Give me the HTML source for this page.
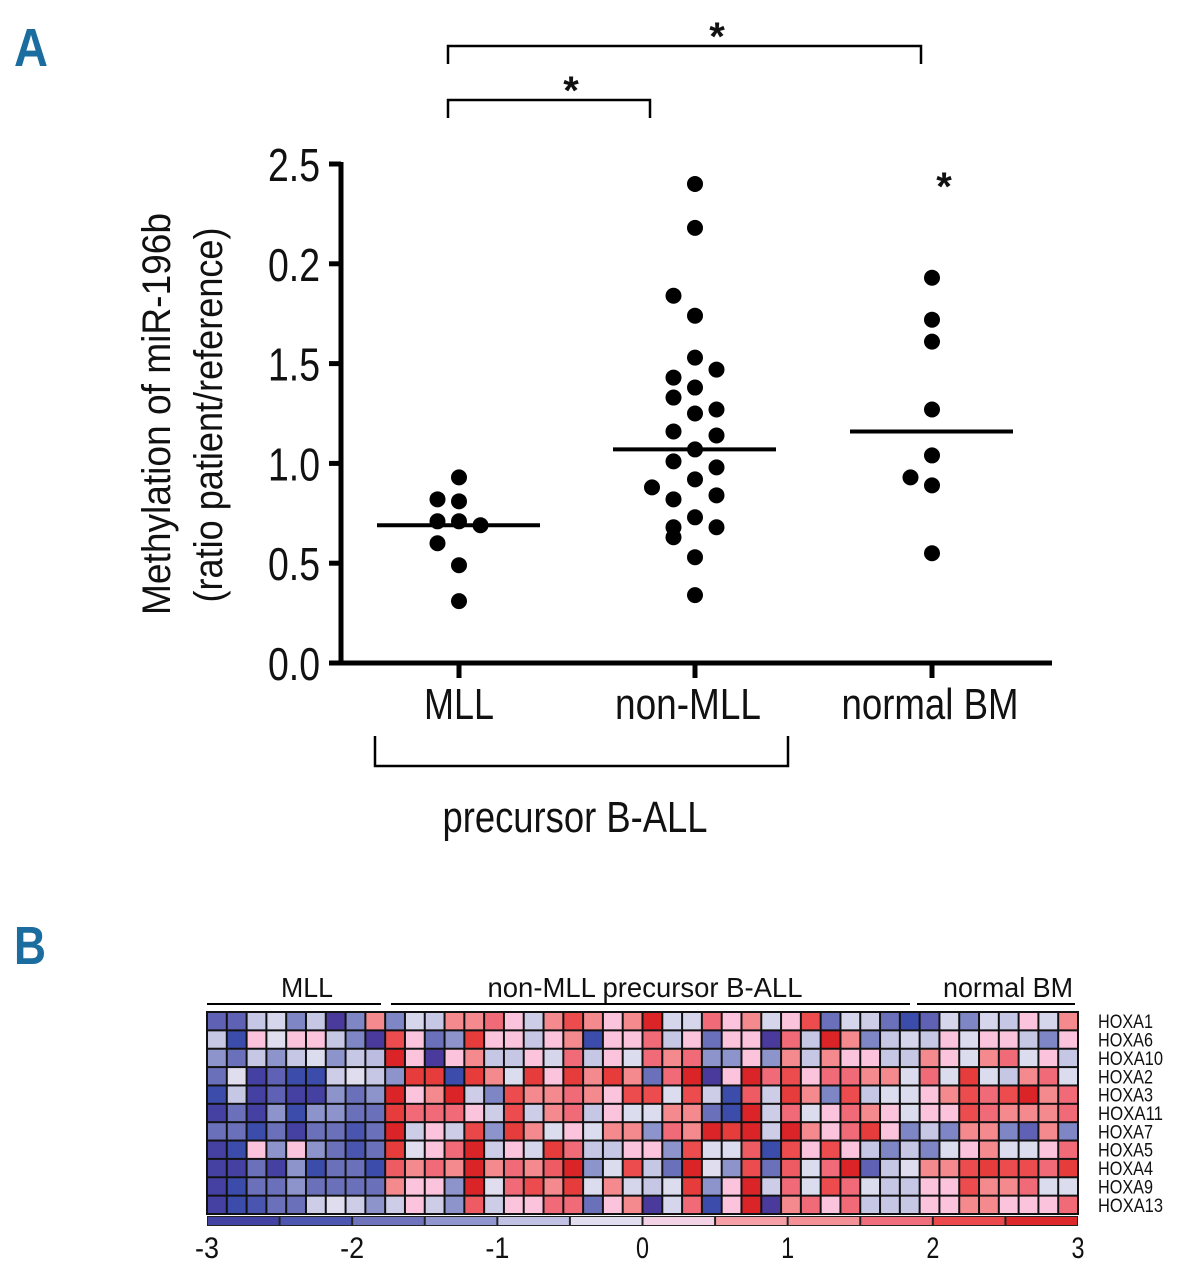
<!DOCTYPE html>
<html><head><meta charset="utf-8"><style>
html,body{margin:0;padding:0;background:#fff;}
svg{display:block;}
text{font-family:"Liberation Sans Narrow","Liberation Sans",sans-serif;fill:#111;}
</style></head><body>
<svg id="fig" width="1185" height="1280" viewBox="0 0 1185 1280" xmlns="http://www.w3.org/2000/svg">
<text x="14" y="66" font-size="54" font-weight="bold" textLength="34" lengthAdjust="spacingAndGlyphs" style="fill:#1a6d9e">A</text>
<text x="14" y="964" font-size="54" font-weight="bold" textLength="32" lengthAdjust="spacingAndGlyphs" style="fill:#1a6d9e">B</text>
<g id="scatter"></g>
<g id="heat"></g>
</svg>
<script>
// ---------- Panel A data ----------
const categories = ["MLL", "non-MLL", "normal BM"];
const yTickValues = [0, 0.5, 1.0, 1.5, 2.0, 2.5];
const yTickLabels = ["0.0", "0.5", "1.0", "1.5", "0.2", "2.5"];
const mllValues = [0.93, 0.82, 0.81, 0.71, 0.71, 0.69, 0.60, 0.49, 0.31];
const mllJitter = [0, -1, 0, -1, 0, 1, -1, 0, 0];
const nonMllValues = [2.40, 2.18, 1.84, 1.74, 1.53, 1.43, 1.47, 1.38, 1.33, 1.16, 1.27, 1.25, 1.14, 1.07, 1.01, 0.88, 0.98, 0.92, 0.82, 0.84, 0.73, 0.68, 0.68, 0.63, 0.53, 0.34];
const nonMllJitter = [0, 0, -1, 0, 0, -1, 1, 0, -1, -1, 1, 0, 1, 0, -1, -2, 1, 0, -1, 1, 0, -1, 1, -1, 0, 0];
const normalValues = [1.93, 1.72, 1.61, 1.27, 1.04, 0.93, 0.89, 0.55];
const normalJitter = [0, 0, 0, 0, 0, -1, 0, 0];
const medians = [0.69, 1.07, 1.16];

// ---------- Panel B data ----------
const genes = ["HOXA1","HOXA6","HOXA10","HOXA2","HOXA3","HOXA11","HOXA7","HOXA5","HOXA4","HOXA9","HOXA13"];
const legendTicks = [-3,-2,-1,0,1,2,3];
const hm1 = [-2,-2,-0.7,-0.5,-1.5,-0.7,-3,-1.5,1.5,-1.5,-0.5,-0.7,1.5,1.5,1.8, 0.5,-0.6,1.5,2.2,1.5,0.5,1.5,2.8,-0.5,-0.5,1.8,0.5,1.5,-0.5,0.5, 2.2,-1.8,-0.5,-0.6,-1.8,-2.5,-2,-0.5,-1.5,-0.5,-0.7,0.5,-0.5,1.5];
const hm2 = [-0.7,-2.5,0.5,-0.3,0.5,0.5,-0.7,-1.5,-3,2.2,0.5,-1.8,-1.3,2.5,0.5, 0.5,-0.7,0.5,1.5,-2.5,0.5,0.5,1.8,-0.7,0.5,-1.8,0.5,0.5,-3,1.8, -0.7,2.8,1.5,-1.5,-0.7,-0.5,-0.7,0.5,-0.4,0.5,0.5,-0.7,-1.5,0.5];
const hm3 = [-1.3,-1.8,-0.7,-1.3,-0.7,-0.4,-1.3,-0.7,-0.8,2.8,0.5,-3,0.5,1.5,-0.7, -0.7,0.5,-0.5,1.8,-0.7,0.5,-0.4,1.8,1.5,1.8,-1.3,-1.3,0.5,-1.3,1.5, -0.7,1.5,0.5,0.5,-0.7,-0.7,1.5,0.5,-0.4,1.5,1.8,-0.4,0.5,-0.7];
const hm4 = [-1.8,-0.3,-2.8,-2,-2.5,-2.5,-0.6,-0.3,-0.7,-1.3,2.5,2.5,-2.5,2.5,1.5, -0.4,2.5,0.5,2.5,1.5,2.5,1.5,-1.8,1.8,2.8,-3,0.5,2.8,1.8,2.2, 0.5,1.8,1.8,1.5,1.5,-0.4,1.8,-0.4,2.5,-0.4,-0.7,1.5,1.8,-0.4];
const hm5 = [-2.5,-0.7,-2.8,-2,-2.8,-2.8,-1.3,-1.8,-1.3,2.8,0.5,1.5,2.8,-0.6,-1.5, 2.2,1.5,1.5,1.8,1.5,0.5,2.2,2.2,-0.4,2.2,-0.6,-2.5,2,-0.6,2.5, 1.5,-1.5,2.2,-0.7,-0.4,-0.4,0.5,1.5,2.2,1.8,2.2,2.8,1.5,1.8];
const hm6 = [-2.8,-1.8,-2.8,-1.3,-2.5,-1.3,-1.3,-1.8,-1.8,2.5,1.8,1.8,1.8,0.5,-0.6, 2.2,-0.6,1.5,1.8,-0.7,0.5,-0.4,-0.4,1.5,1.5,-1.8,-2.5,2.8,-0.6,1.8, -0.4,0.5,1.8,1.5,0.5,-0.4,0.5,0.5,2.2,1.8,1.5,1.5,1.5,1.8];
const hm7 = [-1.8,-1.8,-2.5,-1.8,-2.8,-1.8,-1.8,-2.3,-1.8,2.8,-0.6,0.5,-0.6,2.3,-1.3, 2.5,1.5,-0.4,0.5,-0.4,1.5,1.5,-1.3,1.8,1.5,2.8,2.5,2.8,-0.6,2.8, 1.5,0.5,1.8,2.5,0.5,-1.5,-0.7,-1.5,1.5,1.5,-1.5,-2,1.5,-1.5];
const hm8 = [-2.8,-2.5,0.5,-1.3,0.5,-1.3,-1.8,-2.3,-1.8,2.5,-0.3,0.5,1.8,2.8,-0.6, 0.5,-0.5,2.5,1.8,-0.7,-0.7,0.5,0.5,-1.3,2.2,-0.4,-0.4,2,-2.5,2.2, 0.5,2.2,0.5,-0.7,-1.5,-0.7,-1.5,-0.4,0.5,1.5,-0.4,-0.4,0.5,1.8];
const hm9 = [-2.8,-2.8,-1.8,-2.8,-1.3,-2.5,-1.8,-1.8,-2.5,2,1.5,1.8,1.5,2.8,1.5, 1.8,1.5,2,2.8,-1.3,-0.4,2.2,-0.7,-1.8,2.8,-0.3,-1.3,2.2,-1.8,2, -0.4,1.8,2.8,-2,-0.7,-0.3,1.5,1.5,2.2,2.5,2.2,2.2,1.8,2.5];
const hm10 = [-2.8,-2.5,-1.8,-1.8,-1.3,-1.8,-1.8,-1.8,-1.8,1.5,0.5,0.5,-1.3,2.8,-0.3, 1.8,2.2,1.5,2.5,-0.4,1.5,-0.5,-0.7,-0.4,2.5,-1.3,0.5,2.8,-0.6,1.8, -0.4,2.2,1.8,-0.4,-0.7,-0.7,0.5,0.5,2.2,1.5,1.5,1.8,-0.4,-0.4];
const hm11 = [-2.8,-2.5,-2.3,-1.8,-1.8,-0.6,-0.3,-0.6,-1.3,-0.6,0.5,-0.6,-1.3,2,-0.6, 0.5,0.5,1.8,1.8,-1.8,0.5,1.5,-3,-0.5,1.8,-2.5,0.5,2.8,-3,1.5, 1.8,0.5,1.8,-0.7,-0.7,-0.7,0.5,0.5,1.5,1.5,0.5,0.5,0.5,1.8];
const heatRows = [hm1,hm2,hm3,hm4,hm5,hm6,hm7,hm8,hm9,hm10,hm11];

const NS = "http://www.w3.org/2000/svg";
function mk(tag, attrs, parent, txt) {
  const e = document.createElementNS(NS, tag);
  for (const k in attrs) e.setAttribute(k, attrs[k]);
  if (txt !== undefined) e.textContent = txt;
  parent.appendChild(e);
  return e;
}

// ---------- Panel A ----------
const A = document.getElementById("scatter");
const yBase = 663, yPerUnit = 199.6, axX = 341, axRight = 1052;
const catX = [459, 695, 932];
const jitterStep = 21.5;
function yScale(v) { return yBase - v * yPerUnit; }
function xScale(i) { return catX[i]; }

let yAxis = mk("line", {x1: axX, y1: yScale(2.5) - 2, x2: axX, y2: yBase + 2, stroke: "#000", "stroke-width": 5}, A);


let xAxis = mk("line", {x1: axX - 2, y1: yBase, x2: axRight, y2: yBase, stroke: "#000", "stroke-width": 5}, A);



yTickValues.forEach((v, i) => {
  const y = yScale(v);
  const t = mk("line", {x1: axX - 12, y1: y, x2: axX, y2: y, stroke: "#000", "stroke-width": 5}, A);
  
  
  const lab = mk("text", {x: 320, y: y + 17, "font-size": 46, "text-anchor": "end", textLength: 52, lengthAdjust: "spacingAndGlyphs"}, A, yTickLabels[i]);
  
  
});

const catWidths = [70, 146, 177];
const catCenters = [459, 688, 930];
categories.forEach((c, i) => {
  const x = xScale(i);
  const t = mk("line", {x1: x, y1: yBase, x2: x, y2: yBase + 15, stroke: "#000", "stroke-width": 5}, A);
  
  
  const lab = mk("text", {x: catCenters[i], y: 719, "font-size": 44, "text-anchor": "middle", textLength: catWidths[i], lengthAdjust: "spacingAndGlyphs"}, A, c);
  
  
});

const t1 = mk("text", {x: 0, y: 0, "font-size": 40, "text-anchor": "middle", textLength: 402, lengthAdjust: "spacingAndGlyphs", transform: "translate(170,414) rotate(-90)"}, A, "Methylation of miR-196b");


const t2 = mk("text", {x: 0, y: 0, "font-size": 40, "text-anchor": "middle", textLength: 375, lengthAdjust: "spacingAndGlyphs", transform: "translate(222,415) rotate(-90)"}, A, "(ratio patient/reference)");



const groups = [[mllValues, mllJitter], [nonMllValues, nonMllJitter], [normalValues, normalJitter]];
groups.forEach((g, gi) => {
  g[0].forEach((v, k) => {
    const c = mk("circle", {cx: xScale(gi) + g[1][k] * jitterStep, cy: yScale(v), r: 8, fill: "#000"}, A);
    
    
  });
  const m = mk("line", {x1: xScale(gi) - 82, y1: yScale(medians[gi]), x2: xScale(gi) + 81, y2: yScale(medians[gi]), stroke: "#000", "stroke-width": 4}, A);
  
  
});

function bracket(x1, x2, y, drop, name) {
  const p = mk("path", {d: `M${x1},${y + drop} L${x1},${y} L${x2},${y} L${x2},${y + drop}`, fill: "none", stroke: "#000", "stroke-width": 2.5}, A);
  
  
}
bracket(448, 921, 46, 18, 'significance-bracket-mll-normal');
bracket(448, 650, 100, 18, 'significance-bracket-mll-nonmll');
bracket(375, 788, 766, -30, 'precursor-b-all-bracket');
[[717, 50], [571, 104], [944, 200]].forEach(p => {
  const s = mk("text", {x: p[0], y: p[1], "font-size": 40, "font-weight": "bold", "text-anchor": "middle"}, A, "*");
  
  
});
const pb = mk("text", {x: 575, y: 832, "font-size": 44, "text-anchor": "middle", textLength: 265, lengthAdjust: "spacingAndGlyphs"}, A, "precursor B-ALL");



// ---------- Panel B ----------
const H = document.getElementById("heat");
const hx0 = 207, hx1 = 1078, hy0 = 1012, hy1 = 1214;
const nCols = hm1.length, nRows = heatRows.length;
const cw = (hx1 - hx0) / nCols, ch = (hy1 - hy0) / nRows;
const stops = [[-3,"#4a3a9c"],[-2.5,"#3c4cab"],[-2,"#5f62b4"],[-1.5,"#7e86c5"],[-1,"#a4a8d6"],[-0.7,"#c6c6e5"],[-0.4,"#dcdcef"],[0,"#ece0ee"],[0.5,"#fbc4dc"],[0.75,"#f5a0a6"],[1.5,"#f48a8e"],[1.8,"#f06a78"],[2.2,"#ec4c4e"],[2.5,"#e63c3c"],[2.8,"#db2428"],[3,"#d61e22"]];
function hex(h){return [parseInt(h.slice(1,3),16),parseInt(h.slice(3,5),16),parseInt(h.slice(5,7),16)];}
function colorOf(v) {
  if (v <= stops[0][0]) return stops[0][1];
  for (let i = 1; i < stops.length; i++) {
    if (v <= stops[i][0]) {
      const a = hex(stops[i-1][1]), b = hex(stops[i][1]);
      const t = (v - stops[i-1][0]) / (stops[i][0] - stops[i-1][0]);
      return "rgb(" + a.map((x, k) => Math.round(x + (b[k] - x) * t)).join(",") + ")";
    }
  }
  return stops[stops.length-1][1];
}
const bg = mk("rect", {x: hx0 - 1, y: hy0 - 1, width: hx1 - hx0 + 2, height: hy1 - hy0 + 2, fill: "#111"}, H);


heatRows.forEach((row, r) => {
  row.forEach((v, c) => {
    const cell = mk("rect", {x: hx0 + c * cw + 1, y: hy0 + r * ch + 1, width: cw - 2, height: ch - 2, fill: colorOf(v)}, H);
    
    
  });
  const g = mk("text", {x: 1098, y: hy0 + (r + 0.5) * ch + 7, "font-size": 19, textLength: genes[r].length > 5 ? 65 : 55, lengthAdjust: "spacingAndGlyphs"}, H, genes[r]);
  
  
});

const hdrs = [["MLL", 307, 52, 207, 381], ["non-MLL precursor B-ALL", 645, 315, 391, 910], ["normal BM", 1008, 130, 917, 1075]];
hdrs.forEach(h => {
  const t = mk("text", {x: h[1], y: 997, "font-size": 28, "text-anchor": "middle", textLength: h[2], lengthAdjust: "spacingAndGlyphs"}, H, h[0]);
  
  
  const l = mk("line", {x1: h[3], y1: 1004, x2: h[4], y2: 1004, stroke: "#000", "stroke-width": 2}, H);
  
  
});

// color legend
const lx0 = 207, lx1 = 1078, ly = 1216, lh = 10;
function lScale(v) { return lx0 + (v + 3) / 6 * (lx1 - lx0); }
const legBg = mk("rect", {x: lx0, y: ly, width: lx1 - lx0, height: lh, fill: "#222"}, H);


for (let i = 0; i < 12; i++) {
  const v0 = -3 + i * 0.5;
  const seg = mk("rect", {x: lScale(v0) + 1, y: ly + 1, width: lScale(v0 + 0.5) - lScale(v0) - 2, height: lh - 2, fill: colorOf(v0 + 0.25)}, H);
  
  
}
legendTicks.forEach(v => {
  const t = mk("text", {x: lScale(v), y: 1258, "font-size": 30, "text-anchor": "middle", textLength: v < 0 ? 24 : 13, lengthAdjust: "spacingAndGlyphs"}, H, String(v));
  
  
});
</script>
</body></html>
